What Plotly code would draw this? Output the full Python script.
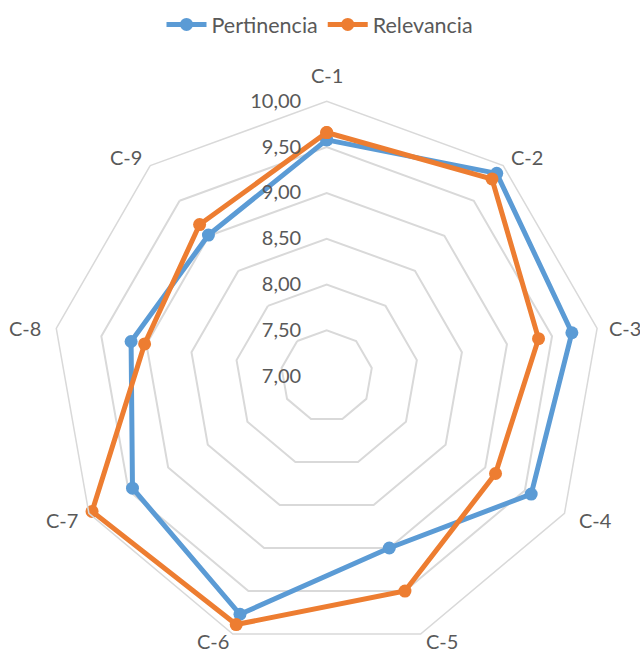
import math
import plotly.graph_objects as go

categories = ["C-1", "C-2", "C-3", "C-4", "C-5", "C-6", "C-7", "C-8", "C-9"]
pertinencia = [9.58, 9.89, 9.72, 9.58, 9.00, 9.77, 9.45, 9.17, 9.01]
relevancia = [9.66, 9.81, 9.35, 9.13, 9.50, 9.89, 9.96, 9.02, 9.16]
radial_ticks = [7.0, 7.5, 8.0, 8.5, 9.0, 9.5, 10.0]

# pixel offset of each category label from its outer-ring vertex (x right, y down)
label_offset = [(0, -26), (24, -9), (28, 0), (31, 7), (21, 7),
                (-20, 7), (-27, 7), (-31, 0), (-24, -9)]

W, H = 640, 655
R_MIN, R_MAX = 7.0, 10.0
DOMAIN_X = [0.0814, 0.9395]
DOMAIN_Y = [0.0067, 0.8452]

BLUE = "#5B9BD5"
ORANGE = "#ED7D31"
GRID = "#D9D9D9"
TEXT = "#595959"
FONT = "Lato, Carlito, Calibri, sans-serif"


def closed(values):
    return values + values[:1]


fig = go.Figure()
for name, vals, color in [("Pertinencia", pertinencia, BLUE),
                          ("Relevancia", relevancia, ORANGE)]:
    fig.add_trace(go.Scatterpolar(
        r=closed(vals),
        theta=closed(categories),
        name=name,
        mode="lines+markers",
        line=dict(color=color, width=5),
        marker=dict(color=color, size=13),
    ))

# category labels: outer-ring vertex of each spoke -> paper coordinates
cx = (DOMAIN_X[0] + DOMAIN_X[1]) / 2
cy = (DOMAIN_Y[0] + DOMAIN_Y[1]) / 2
radius_px = (DOMAIN_X[1] - DOMAIN_X[0]) * W / 2
step = 360 / len(categories)
annotations = []
for i, (cat, (ox, oy)) in enumerate(zip(categories, label_offset)):
    ang = math.radians(90 - step * i)
    annotations.append(dict(
        x=cx + (radius_px * math.cos(ang) + ox) / W,
        y=cy + (radius_px * math.sin(ang) - oy) / H,
        xref="paper", yref="paper",
        xanchor="center", yanchor="middle",
        text=cat, showarrow=False,
        font=dict(family=FONT, size=20, color=TEXT),
    ))

fig.update_layout(
    width=W,
    height=H,
    margin=dict(l=0, r=0, t=0, b=0),
    paper_bgcolor="white",
    plot_bgcolor="white",
    separators=", ",
    font=dict(family=FONT, size=20, color=TEXT),
    showlegend=True,
    legend=dict(
        orientation="h",
        x=0.5, xanchor="center",
        y=0.994, yanchor="top",
        font=dict(size=21.5, color=TEXT),
        itemwidth=40,
    ),
    annotations=annotations,
    polar=dict(
        domain=dict(x=DOMAIN_X, y=DOMAIN_Y),
        bgcolor="white",
        gridshape="linear",
        radialaxis=dict(
            range=[R_MIN, R_MAX],
            tickvals=radial_ticks,
            tickformat=".2f",
            angle=90,
            tickangle=90,
            side="counterclockwise",
            showline=False,
            ticks="outside",
            ticklen=18,
            tickcolor="rgba(0,0,0,0)",
            gridcolor=GRID,
            gridwidth=1.5,
            tickfont=dict(size=20, color=TEXT),
        ),
        angularaxis=dict(
            rotation=90,
            direction="clockwise",
            showgrid=False,
            showline=True,
            linecolor=GRID,
            linewidth=1.5,
            ticks="",
            showticklabels=False,
        ),
    ),
)

fig.write_html("out.html")
